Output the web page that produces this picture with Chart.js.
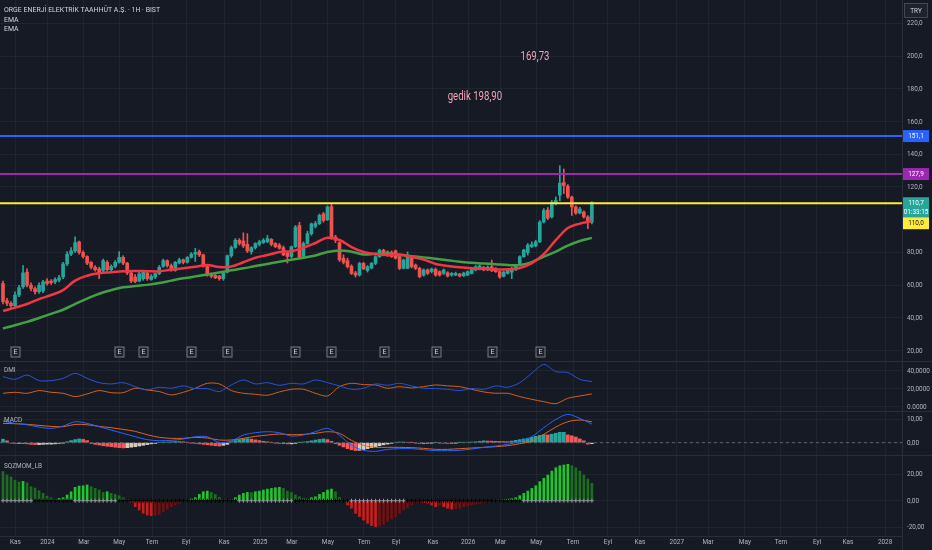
<!DOCTYPE html>
<html>
<head>
<meta charset="utf-8">
<script src="https://cdn.jsdelivr.net/npm/chart.js@4.4.1/dist/chart.umd.min.js"></script>
<style>
html, body { margin: 0; padding: 0; background: #161a25; overflow: hidden; }
#wrap { position: relative; width: 932px; height: 550px; }
canvas { position: absolute; left: 0; }
</style>
</head>
<body>
<div id="wrap">
  <canvas id="main" width="932" height="361" style="top:0px"></canvas>
  <canvas id="dmi" width="932" height="50" style="top:361px"></canvas>
  <canvas id="macd" width="932" height="44" style="top:411px"></canvas>
  <canvas id="sqz" width="932" height="95" style="top:455px"></canvas>
</div>
<script>
// weekly candles, index 0 .. 147
const opens = [61,50.5,49,47.5,54,59,68,60,58,56,
  56.5,62.5,62.5,62,63,65,73,79,81,86.5,
  80,77.5,74,71,70,69,74,69.5,71.5,74,
  77,73.5,67.5,65,62.5,64,67.5,63.5,65,67,
  71.5,75,72,69,73.5,75.5,74,77,79,80.5,
  78.5,71.5,67,66,65.5,64,68,78,83,87.5,
  87,85,80.5,83,85,86,86.5,88,85.5,84.5,
  83,79.5,77.5,83.5,96.5,77.5,85.5,91.5,96,97.6,
  103.5,100,108,89.5,86,76.5,75,71.5,67.5,66.2,
  73.3,69,70.5,73.3,77.4,81.4,80.4,80,81,77.4,
  70.3,70.3,77.4,72.3,70.3,66.2,69.3,68.3,69.7,68.3,
  67.3,67.6,66.2,66.2,66.8,65.8,66.2,67.2,69.3,69.7,
  70.9,69.3,71.3,70.3,68.3,65.5,67.2,68,69.3,73.3,
  77.4,80,83.5,84,86.5,98.6,106,101.7,110,115,
  122.7,120.5,113.8,107.8,104.1,104.7,101.7,98.6];
const closes = [50,49,47.5,54,58.5,67.5,60,58,56,60,
  62,61,61.5,63.5,64.5,73,79,81,86,80,
  77.5,73.5,71,69.5,67.5,75,69.5,71.5,74,77,
  73.5,67.5,62.5,62.2,67,68,64,65.5,67,71,
  75,72,69.5,74,75.5,74,77,79,80,78.5,
  71.5,66.5,65.5,64.5,64,68,78,83,87.5,85.5,
  84,81,83,85.5,86.5,87.5,88.5,85,83.5,82.5,
  78.5,77.5,83.5,95.5,77,85.5,91.5,97.5,97.7,102.7,
  99.5,107.8,88.5,87.5,75.5,74,71.3,67.2,66.2,73.3,
  70,71.3,73.3,77.4,81.4,78.4,78.4,77.4,76.5,70.3,
  75.3,78.4,71.3,70.3,65.2,69.3,67.3,69.9,66.2,66.2,
  69.3,65.6,67.2,67.2,65.6,67.4,68.3,69.7,71.3,71.7,
  69.3,71.1,68.8,68.3,65,68,69.3,70,72.3,77.4,
  81.4,84.5,84.8,86.5,98.6,105.7,101,110.8,111.8,122.3,
  120.9,113.8,107.8,104.1,106.5,101.7,98.6,110.7];
const highs = [62.5,52,50,56,60,72,70,61.5,59,61.5,
  63,64,63.5,64.5,66,74,80.5,83,89.5,87,
  81,78,74.5,72,71,76,75,72.5,75,80.5,
  78,74,68,66.5,68,68.5,68,66.5,67.5,72,
  76,75.5,73,74.5,76.5,76,77.5,80,82.5,81.5,
  79,72,67.5,66.5,66,68.5,78.5,84,88.5,88.5,
  92,91.5,83.5,86,87.5,88.5,90.5,88.5,86,85.5,
  84,80.5,84,96.5,98.5,86.5,93,98,99,103.5,
  104.5,108.5,109.8,90.5,86.5,78.5,76.5,72.5,68.5,74,
  74,72,74,78,82,82,81,81,81.5,78,
  76,80.4,78,73,71,70,70,70.5,70.5,68.8,
  70,68.3,67.8,68,67.3,68,68.8,70.3,72,72.5,
  71.5,71.8,75.4,70.8,68.8,68.8,69.8,71,72.8,78,
  82,85.5,86.5,87.5,99.5,106.8,107.5,111.8,114,133,
  131,121.5,114.5,108.5,107.5,105.5,102.5,111];
const lows = [48.5,47.5,45.5,46.5,53,58,59,56.5,54.5,55,
  55.5,60,60.5,61,62,64,72,78,80,79,
  76.5,72.5,70,68.5,64,68,68.5,68.5,70.5,73.5,
  72.5,66.5,61.5,61.5,62,63,63,63,64,66.5,
  71,71,68.5,68.5,73,73,73.5,76.5,74.5,77.5,
  71,65.5,64.5,64,63,63,67.5,77,82.5,84.5,
  83,80,79,82,84,85.5,86,84,83,82,
  78,73.5,76.5,83,76,77,85,90.5,95,97,
  98.5,99.5,88,86,74.5,73,70.5,66.5,65,65.5,
  69.5,68,70,72.5,77,78,77.5,77,76,69.5,
  70,70,70.5,69.5,64.5,65.5,66.5,67.5,65.5,65.5,
  66.5,65,65.5,65.8,65,65.2,65.8,66.8,68.8,69.3,
  68.8,68.8,68.3,67.8,64.2,65,66.8,64,69,73,
  77,78.4,83,83.4,86,98,100,101,109,111.5,
  116,113,102.7,103.2,103.5,101,94.6,97.5];

// moving averages and indicator lines, read every 3rd candle
const SAMPLE_STEP = 3;
const emaFast = [44.3,46.3,48.5,51.5,54,57,62.8,65.8,67.3,67.9,
  68.6,68.7,68.6,68.5,69.5,70.4,71.3,72.3,71.1,71.4,
  74,76.8,78.4,80.3,80.8,82.9,85.8,89,87.6,83.3,
  80.3,79,78.4,78.7,77.3,75.6,73,71.8,70.9,70.3,
  70,69.7,69.7,70.5,73.5,79,87.5,94.9,97.6,99.2];
const emaSlow = [33.6,35.5,37.6,40,42.5,45,48.5,51.8,54.8,57,
  58.7,59.5,60.2,61.3,62.8,64.2,65.4,66.5,67.8,69.1,
  70.3,71.7,73,74.3,75.5,76.8,78.2,80.3,81.2,80.5,
  78.8,79.2,79.3,78.4,77.7,77,76.2,75.3,74.3,73.7,
  73.3,72.8,72.3,72.4,74.1,77.5,80.5,84.2,87,88.9];
const dmiBlue = [33.4,30.4,35.2,29,29,31.5,37.1,31.5,26.7,25.3,
  26.7,22.3,18.6,21.6,20.5,23.1,20.1,20.1,16.8,24.2,
  29.7,25.3,26.7,23.8,26,25.3,29.7,26.7,23.1,19.3,
  20.5,25.3,23.8,26,23.1,20.5,20.1,19.3,17.9,20.1,
  19.3,23.1,21.6,26.7,37.1,47,39,38,30.4,27.9];
const dmiOrange = [14.9,16,14.9,17.9,16,14.9,11.2,14.2,17.9,15.6,
  15.6,20.5,18.6,16.8,13.1,16,20.5,26,25.3,17.9,
  14.9,13.8,12.7,16.4,19.3,19.3,14.9,11.9,22.3,26,
  24.5,24.2,20.5,22.3,20.8,22.3,24.2,23.1,22.3,19.3,
  16.4,14.9,14.9,11.2,8.2,5.6,3.4,9.3,11.9,14.2];
const macdLine = [9.15,8.17,7.6,6.6,6.06,7.04,8.87,8.17,6.76,5.35,
  3.95,2.54,1.27,0.85,0.99,1.55,2.54,2.54,0.01,0.71,
  3.24,4.23,4.65,4.23,2.82,3.24,4.65,6.06,3.1,-1.12,
  -3.23,-3.65,-2.81,-2.53,-2.53,-2.95,-3.37,-3.37,-3.23,-2.67,
  -1.96,-1.4,-0.7,0.57,2.54,6.34,9.85,11.97,10.28,7.89];
const macdSignal = [8.17,8.03,7.75,7.32,6.9,6.76,7.75,7.6,6.9,6.34,
  5.63,4.79,3.38,2.26,1.84,1.84,2.26,1.98,1.13,1.13,
  1.84,2.68,3.24,3.66,3.38,3.52,3.95,4.65,3.95,0.99,
  -1.12,-1.96,-1.96,-1.96,-2.1,-2.39,-2.81,-2.81,-2.53,-2.25,
  -1.96,-1.68,-1.26,-0.42,0.71,3.52,6.62,8.87,9.58,8.87];
// one value per candle
const macdHist = [1.5,0.8,-0.2,-0.3,-0.3,-0.4,-0.5,-0.7,-0.8,-0.8,
  -0.7,-0.6,-0.6,-0.5,-0.3,-0.1,0.4,0.9,1.3,1.6,
  1.4,0.9,-0.3,-0.7,-1.0,-1.3,-1.5,-1.7,-1.9,-2.1,
  -2.2,-2.1,-1.9,-1.7,-1.4,-1.1,-0.8,-0.5,-0.3,0.2,
  0.3,0.3,0.4,0.5,0.5,0.4,0.2,-0.1,-0.3,-0.5,
  -0.7,-0.9,-1.1,-1.3,-1.4,-1.1,-0.7,0.4,0.9,1.3,
  1.6,1.7,1.5,1.2,0.9,0.6,0.4,0.2,-0.1,-0.3,
  -0.4,-0.5,-0.5,-0.3,0.1,0.3,0.5,0.8,1.1,1.4,
  1.6,1.3,0.6,-0.4,-1.1,-1.8,-2.5,-3.0,-3.3,-3.2,
  -2.9,-2.5,-2.1,-1.7,-1.3,-0.9,-0.6,-0.3,0.2,0.3,
  0.3,0.2,0.1,-0.2,-0.3,-0.3,-0.2,-0.1,0.1,-0.1,
  -0.2,-0.3,-0.2,-0.1,0.1,0.2,0.2,0.3,0.4,0.6,
  0.8,0.7,0.65,0.6,0.55,0.5,0.45,0.7,1.0,1.3,
  1.6,1.9,2.3,2.7,3.1,3.4,3.3,3.6,4.0,4.4,
  4.4,3.3,2.9,2.4,1.6,0.8,-0.6,-0.4];
const sqzVals = [22,19.5,18,15.5,14.2,14.6,13.5,10.6,9.6,
  7.5,5.6,3.5,2.3,1.3,
  1.8,2.3,4.3,6.8,10.1,11.1,11.3,11.9,
  10.6,9.3,8.1,6.3,6.8,5.6,4.8,3.8,2.3,
  0.8,
  -1.2,-4.5,-7,-9.5,-10.8,-11.3,-11.1,-10.3,-8.3,-6.3,-4.5,-3.2,-2,-0.7,
  0.3,
  1.3,2.3,4.8,6.8,7.3,6.3,4.8,
  2.5,0.8,0.4,0.6,
  2.3,4.3,5.6,6.3,6.2,6.8,7.3,8.1,8.8,9.3,9.8,10.1,9.3,7.3,6.3,4.3,
  3,1.8,1.3,2.3,
  3,4.8,6.3,8.1,8.8,6.8,
  2.5,0.5,
  -3.2,-5.7,-9.5,-12,-14.6,-17.1,-18.8,-19.6,-19,-17.8,-15.8,-13.8,-12,-9.5,-7,-5.2,-3.2,
  -1.5,-1.2,-1.5,-1.8,
  -3.2,-4.5,-3.5,-4.5,-5.7,-6.3,-6,-5.6,-4.5,-3.8,-3.2,-2.6,-2,-1.4,-0.7,
  -0.3,0.3,0.5,0.8,1.2,1.6,
  2.3,3.8,5.6,7.3,9.3,11.3,14.4,16.9,19.4,22.4,24.9,26.4,27,27.5,
  26.4,24.9,22.4,19.4,16.4,13.1];
// candles where the squeeze is off (grey crosses)
const sqzOffFrom = [0, 18, 59, 87, 130];
const sqzOffTo = [7, 28, 72, 100, 147];

// horizontal levels and notes
const levelVals = [151.1, 127.9, 110.0];
const levelText = ['151,1', '127,9', '110,0'];
const noteTexts = ['169,73', 'gedik 198,90'];
const notePos = [132.8, 117.8];
const notePrice = [199.2, 174.8];
const earnPos = [3, 29, 35, 47, 56, 73, 82, 95, 108, 122, 134];
const lastPrice = 110.7;

// price axis ticks
const priceTicks = [20,40,60,80,120,140,160,180,200,220];
const priceTickText = ['20,00','40,00','60,00','80,00','120,0','140,0','160,0','180,0','200,0','220,0'];

// time axis
const timeTickPos = [3.1,11.1,20.2,29.0,37.2,45.7,55.2,64.2,72.1,81.1,90.1,98.1,107.3,116.1,124.2,133.1,142.3,151.0,159.0,168.2,176.0,185.2,194.2,203.2,210.9,220.2];
const timeTickLabels = ['Kas','2024','Mar','May','Tem','Eyl','Kas','2025','Mar','May','Tem','Eyl','Kas','2026','Mar','May','Tem','Eyl','Kas','2027','Mar','May','Tem','Eyl','Kas','2028'];
const X_MIN = -0.75, X_MAX = 224.42;

const FONT = "Roboto, 'Liberation Sans', sans-serif";
const GRID = 'rgba(42,46,57,0.55)', SEP = '#2a2e39', TXT = '#b2b5be';
const UP = '#26a69a', DOWN = '#ef5350';
const SQUEEZE = 0.8;   // horizontal squeeze, the reference uses a narrow face

const samplePts = arr => arr.map((v, k) => ({x: k * SAMPLE_STEP, y: v}));

function narrowText(ctx, t, x, y, align, sq) {
  ctx.save();
  ctx.translate(x, y);
  ctx.scale(sq || SQUEEZE, 1);
  ctx.textAlign = align || 'left';
  ctx.fillText(t, 0, 0);
  ctx.restore();
}
function noPad(s) { s.paddingLeft = s.paddingRight = s.paddingTop = s.paddingBottom = 0; }

function xScale(axisH) {
  return {
    type: 'linear', min: X_MIN, max: X_MAX, offset: false,
    afterBuildTicks: s => { s.ticks = timeTickPos.map(v => ({value: v})); },
    grid: {color: GRID, drawTicks: false, offset: false},
    border: {display: axisH > 0, color: SEP},
    ticks: {display: false},
    afterFit: s => { s.height = axisH; noPad(s); }
  };
}
function yScale(min, max, vals) {
  return {
    position: 'right', min: min, max: max,
    afterBuildTicks: s => { s.ticks = vals.map(v => ({value: v})); },
    grid: {color: GRID, drawTicks: false},
    border: {display: true, color: SEP},
    ticks: {display: false},
    afterFit: s => { s.width = 30; noPad(s); }
  };
}
const baseOpts = {responsive: false, animation: false, events: [],
  layout: {padding: 0, autoPadding: false},
  plugins: {legend: {display: false}, tooltip: {enabled: false}}};

function drawYLabels(chart, vals, texts) {
  const ctx = chart.ctx, y = chart.scales.y, a = chart.chartArea;
  ctx.font = '8px ' + FONT;
  ctx.fillStyle = TXT;
  ctx.textBaseline = 'middle';
  vals.forEach((v, k) => narrowText(ctx, texts[k], a.right + 5, y.getPixelForValue(v)));
}

function tag(ctx, x0, top, h, bg, fg, lines) {
  ctx.fillStyle = bg;
  ctx.fillRect(x0, top, 26, h);
  ctx.fillStyle = fg;
  lines.forEach((t, k) => narrowText(ctx, t, x0 + 13, top + 6 + k * 9, 'center'));
}

const mainDecor = {
  id: 'mainDecor',
  afterDraw(chart) {
    const ctx = chart.ctx, a = chart.chartArea, x = chart.scales.x, y = chart.scales.y;
    ctx.save();
    ctx.textBaseline = 'middle';
    ctx.font = '8px ' + FONT;
    ctx.fillStyle = '#d1d4dc';
    narrowText(ctx, 'ORGE ENERJİ ELEKTRİK TAAHHÜT A.Ş. · 1H · BIST', 4, 9.5, 'left', 0.87);
    narrowText(ctx, 'EMA', 4, 19.5, 'left', 0.87);
    narrowText(ctx, 'EMA', 4, 29, 'left', 0.87);
    // notes
    ctx.font = '12px ' + FONT;
    ctx.fillStyle = '#f0a2b6';
    noteTexts.forEach((t, k) => narrowText(ctx, t, x.getPixelForValue(notePos[k]), y.getPixelForValue(notePrice[k]), 'center'));
    // earnings markers
    ctx.font = '7px ' + FONT;
    earnPos.forEach(p => {
      const px = Math.round(x.getPixelForValue(p)) + 0.5;
      ctx.fillStyle = '#1e222d';
      ctx.fillRect(px - 4.5, a.bottom - 14, 9, 10);
      ctx.strokeStyle = '#787b86';
      ctx.lineWidth = 1;
      ctx.strokeRect(px - 4.5, a.bottom - 14, 9, 10);
      ctx.fillStyle = '#d1d4dc';
      ctx.textAlign = 'center';
      ctx.fillText('E', px, a.bottom - 8.5);
    });
    drawYLabels(chart, priceTicks, priceTickText);
    // price tags
    ctx.font = '8px ' + FONT;
    const rx = a.right + 1;
    tag(ctx, rx, y.getPixelForValue(levelVals[0]) - 6, 12, '#2962ff', '#ffffff', [levelText[0]]);
    tag(ctx, rx, y.getPixelForValue(levelVals[1]) - 6, 12, '#9c27b0', '#ffffff', [levelText[1]]);
    const lt = y.getPixelForValue(lastPrice) - 5;
    tag(ctx, rx, lt, 20, '#26a69a', '#ffffff', ['110,7', '01:33:15']);
    tag(ctx, rx, lt + 20, 12, '#ffeb3b', '#131722', [levelText[2]]);
    // currency box
    ctx.fillStyle = '#1e222d';
    ctx.fillRect(904.5, 3.5, 23, 14);
    ctx.strokeStyle = '#434651';
    ctx.strokeRect(904.5, 3.5, 23, 14);
    ctx.fillStyle = '#d1d4dc';
    narrowText(ctx, 'TRY', 916, 10.5, 'center');
    ctx.restore();
  }
};

function panelDecor(label, labelY, vals, texts, timeAxis) {
  return {
    id: 'panelDecor',
    afterDraw(chart) {
      const ctx = chart.ctx, a = chart.chartArea;
      ctx.save();
      ctx.strokeStyle = SEP;
      ctx.lineWidth = 1;
      ctx.beginPath();
      ctx.moveTo(0, 0.5); ctx.lineTo(chart.width, 0.5);
      if (timeAxis) { ctx.moveTo(a.right + 0.5, a.bottom); ctx.lineTo(a.right + 0.5, chart.height); }
      ctx.stroke();
      ctx.font = '8px ' + FONT;
      ctx.fillStyle = TXT;
      ctx.textBaseline = 'middle';
      narrowText(ctx, label, 4, labelY);
      drawYLabels(chart, vals, texts);
      if (timeAxis) {
        const x = chart.scales.x;
        timeTickPos.forEach((p, k) => narrowText(ctx, timeTickLabels[k], x.getPixelForValue(p), a.bottom + 6, 'center'));
      }
      ctx.restore();
    }
  };
}

// main price panel
new Chart(document.getElementById('main'), {
  type: 'bar',
  data: {datasets: [
    ...levelVals.map((v, k) => ({type: 'line', order: 0,
      data: [{x: X_MIN, y: v}, {x: X_MAX, y: v}],
      borderColor: ['#2962ff', '#9c27b0', '#ffeb3b'][k], borderWidth: 2, pointRadius: 0})),
    {type: 'line', order: 1, data: samplePts(emaFast), borderColor: '#f23645', borderWidth: 2.5, pointRadius: 0, tension: 0.4},
    {type: 'line', order: 1, data: samplePts(emaSlow), borderColor: '#43a047', borderWidth: 2.5, pointRadius: 0, tension: 0.4},
    {order: 2, grouped: false, barThickness: 3, minBarLength: 1,
      data: opens.map((o, i) => ({x: i, y: [o, closes[i]]})),
      backgroundColor: c => closes[c.dataIndex] >= opens[c.dataIndex] ? UP : DOWN},
    {order: 3, grouped: false, barThickness: 1,
      data: lows.map((l, i) => ({x: i, y: [l, highs[i]]})),
      backgroundColor: c => closes[c.dataIndex] >= opens[c.dataIndex] ? UP : DOWN}
  ]},
  options: Object.assign({}, baseOpts, {scales: {x: xScale(0), y: yScale(13.7, 234.23, priceTicks)}}),
  plugins: [mainDecor]
});

// DMI
new Chart(document.getElementById('dmi'), {
  type: 'bar',
  data: {datasets: [
    {type: 'line', data: samplePts(dmiBlue), borderColor: '#2a52d8', borderWidth: 1, pointRadius: 0, tension: 0.3},
    {type: 'line', data: samplePts(dmiOrange), borderColor: '#d2601e', borderWidth: 1, pointRadius: 0, tension: 0.3}
  ]},
  options: Object.assign({}, baseOpts, {scales: {x: xScale(0), y: yScale(-4.8, 50.8, [0, 20, 40])}}),
  plugins: [panelDecor('DMI', 9, [0, 20, 40], ['0.0000', '20,0000', '40,0000'], false)]
});

// MACD
new Chart(document.getElementById('macd'), {
  type: 'bar',
  data: {datasets: [
    {type: 'line', order: 0, data: samplePts(macdLine), borderColor: '#2962ff', borderWidth: 1, pointRadius: 0, tension: 0.3},
    {type: 'line', order: 0, data: samplePts(macdSignal), borderColor: '#e0641e', borderWidth: 1, pointRadius: 0, tension: 0.3},
    {type: 'line', order: 1, data: [{x: X_MIN, y: 0}, {x: X_MAX, y: 0}], borderColor: '#5d606b', borderWidth: 1, borderDash: [3, 3], pointRadius: 0},
    {order: 2, grouped: false, barThickness: 3,
      data: macdHist.map((v, i) => ({x: i, y: v})),
      backgroundColor: c => {
        const i = c.dataIndex, v = macdHist[i], p = i ? macdHist[i - 1] : v;
        if (v >= 0) return v >= p ? '#26a69a' : '#f55656';
        return v < p ? '#f55656' : '#d8c9bb';
      }}
  ]},
  options: Object.assign({}, baseOpts, {scales: {x: xScale(0), y: yScale(-5.2, 13.4, [0, 10])}}),
  plugins: [panelDecor('MACD', 9, [0, 10], ['0,00', '10,00'], false)]
});

// squeeze momentum
const sqzOff = i => sqzOffFrom.some((f, k) => i >= f && i <= sqzOffTo[k]);
new Chart(document.getElementById('sqz'), {
  type: 'bar',
  data: {datasets: [
    {type: 'line', order: 0, showLine: false,
      data: sqzVals.map((v, i) => ({x: i, y: 0})),
      pointStyle: 'cross', pointRadius: 2, borderWidth: 1,
      pointBorderColor: c => sqzOff(c.dataIndex) ? '#9598a1' : '#000000'},
    {order: 1, grouped: false, barThickness: 2,
      data: sqzVals.map((v, i) => ({x: i, y: v})),
      backgroundColor: c => {
        const i = c.dataIndex, v = sqzVals[i], p = i ? sqzVals[i - 1] : v;
        if (v >= 0) return v > p ? '#22c32e' : '#1e6b22';
        return v < p ? '#c81e1e' : '#6e1111';
      }}
  ]},
  options: Object.assign({}, baseOpts, {scales: {x: xScale(14), y: yScale(-26.6, 34.5, [-20, 0, 20])}}),
  plugins: [panelDecor('SQZMOM_LB', 11, [-20, 0, 20], ['-20,00', '0,00', '20,00'], true)]
});
</script>
</body>
</html>
